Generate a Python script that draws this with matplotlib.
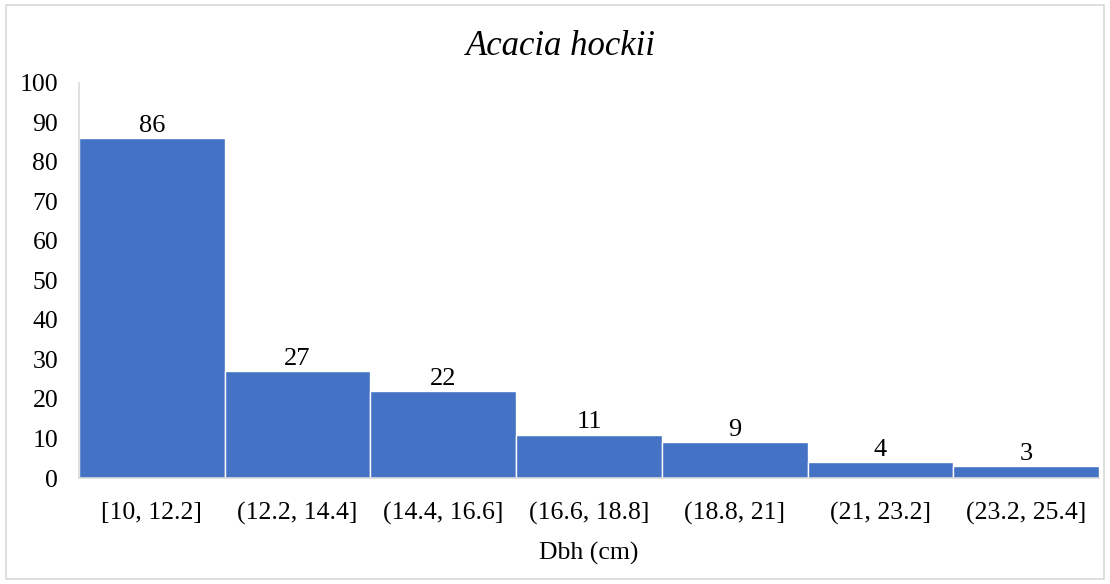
import matplotlib.pyplot as plt
from matplotlib.patches import Rectangle

# Diameter classes and tree counts
dbh_classes = ["[10, 12.2]", "(12.2, 14.4]", "(14.4, 16.6]", "(16.6, 18.8]",
               "(18.8, 21]", "(21, 23.2]", "(23.2, 25.4]"]
tree_counts = [86, 27, 22, 11, 9, 4, 3]
y_ticks = [0, 10, 20, 30, 40, 50, 60, 70, 80, 90, 100]

BAR_COLOR = "#4472C4"
GRID_GRAY = "#D9D9D9"

plt.rcParams["font.family"] = ["Liberation Serif", "DejaVu Serif"]

fig = plt.figure(figsize=(11.1, 5.84), dpi=100)
ax = fig.add_axes([0.0712, 0.1815, 0.9188, 0.6765])

x = range(len(tree_counts))
bars = ax.bar(x, tree_counts, width=1.0, color=BAR_COLOR,
              edgecolor="white", linewidth=1.0)

for xi, v in zip(x, tree_counts):
    ax.text(xi, v + 0.3, str(v), ha="center", va="bottom", fontsize=19)

ax.set_xlim(-0.5, len(tree_counts) - 0.5)
ax.set_ylim(0, 100)
ax.set_yticks(y_ticks)
ax.set_xticks(list(x))
ax.set_xticklabels(dbh_classes, fontsize=18.5)
ax.tick_params(axis="y", labelsize=18.5, length=0, pad=15)
ax.tick_params(axis="x", length=0, pad=17.5)

for side in ["top", "right"]:
    ax.spines[side].set_visible(False)
for side in ["left", "bottom"]:
    ax.spines[side].set_color(GRID_GRAY)
    ax.spines[side].set_linewidth(1.2)

ax.set_xlabel("Dbh (cm)", fontsize=18.5, labelpad=12)
fig.text(0.505, 0.92, "Acacia hockii", ha="center", va="center",
         fontsize=25, style="italic")

# outer chart border
fig.patches.append(Rectangle((0.005, 0.008), 0.99, 0.984, transform=fig.transFigure,
                             fill=False, edgecolor=GRID_GRAY, linewidth=1.2))

fig.savefig("out.png", dpi=100)
